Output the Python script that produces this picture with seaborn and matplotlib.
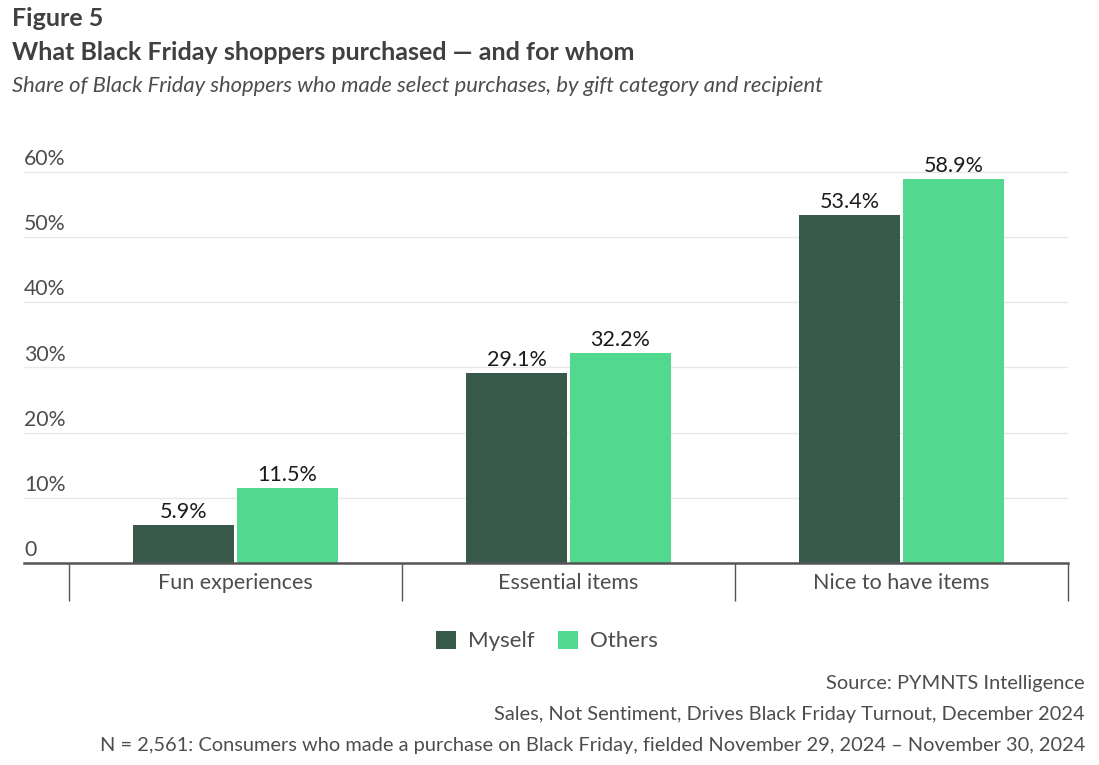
import matplotlib
matplotlib.use("Agg")
import matplotlib.pyplot as plt
import seaborn as sns
import pandas as pd
from matplotlib.ticker import FixedLocator

categories = ["Fun experiences", "Essential items", "Nice to have items"]
recipients = ["Myself", "Others"]
myself = [5.9, 29.1, 53.4]
others = [11.5, 32.2, 58.9]
yticks = [0, 10, 20, 30, 40, 50, 60]
ytick_labels = ["0", "10%", "20%", "30%", "40%", "50%", "60%"]
colors = {"Myself": "#365949", "Others": "#52D98F"}

df = pd.DataFrame({
    "category": categories * 2,
    "recipient": ["Myself"] * 3 + ["Others"] * 3,
    "value": myself + others,
})

sns.set_theme(style="white")
plt.rcParams["font.family"] = ["Lato", "DejaVu Sans"]

fig = plt.figure(figsize=(10.99, 7.65), dpi=100)
ax = fig.add_axes([24 / 1099, 1 - 563 / 765, (1068 - 24) / 1099, (563 - 150) / 765])

sns.barplot(data=df, x="category", y="value", hue="recipient", order=categories,
            hue_order=recipients, palette=colors, width=0.625, gap=0.03,
            saturation=1, edgecolor="none", ax=ax, legend=True)

for cont in ax.containers:
    ax.bar_label(cont, fmt="%.1f%%", padding=2, fontsize=15.5, color="#1a1a1a")

ax.set_ylim(0, 63.3)
ax.set_xlim(-0.5 - 45 / 333, 2.5)
ax.set_yticks(yticks)
ax.set_yticklabels([])
ax.tick_params(axis="y", length=0)
ax.grid(axis="y", color="#e8e8e8", linewidth=1)
ax.set_axisbelow(True)
for v, lab in zip(yticks, ytick_labels):
    ax.text(0, v + 0.4, lab, transform=ax.get_yaxis_transform(), ha="left", va="bottom",
            fontsize=15.3, color="#4d4d4d")

ax.xaxis.set_minor_locator(FixedLocator([-0.5, 0.5, 1.5, 2.5]))
ax.tick_params(axis="x", which="major", length=0, pad=7, labelsize=15.5, labelcolor="#4d4d4d")
ax.tick_params(axis="x", which="minor", length=27.5, width=1, color="#555555", bottom=True)
ax.set_xlabel("")
ax.set_ylabel("")
for s in ["top", "right", "left"]:
    ax.spines[s].set_visible(False)
ax.spines["bottom"].set_color("#555555")
ax.spines["bottom"].set_linewidth(1.8)

sns.move_legend(ax, "center", bbox_to_anchor=(547 / 1099, 1 - 641 / 765),
                bbox_transform=fig.transFigure, ncol=2, frameon=False, title=None,
                fontsize=16, handlelength=0.9, handleheight=0.9, handletextpad=0.55,
                columnspacing=1.05)
for t in ax.get_legend().get_texts():
    t.set_color("#4d4d4d")

fig.text(12 / 1099, 1 - 19 / 765, "Figure 5", fontsize=18, fontweight="bold",
         color="#404040", ha="left", va="center")
fig.text(12 / 1099, 1 - 53 / 765, "What Black Friday shoppers purchased \u2014 and for whom",
         fontsize=18, fontweight="bold", color="#404040", ha="left", va="center")
fig.text(12 / 1099, 1 - 86 / 765,
         "Share of Black Friday shoppers who made select purchases, by gift category and recipient",
         fontsize=15.8, style="italic", color="#4d4d4d", ha="left", va="center")

footer = ["Source: PYMNTS Intelligence",
          "Sales, Not Sentiment, Drives Black Friday Turnout, December 2024",
          "N = 2,561: Consumers who made a purchase on Black Friday, fielded November 29, 2024 \u2013 November 30, 2024"]
for i, line in enumerate(footer):
    fig.text(1085 / 1099, 1 - (683 + 31.5 * i) / 765, line, fontsize=14.4, color="#4d4d4d",
             ha="right", va="center")

fig.savefig("out.png", dpi=100)
